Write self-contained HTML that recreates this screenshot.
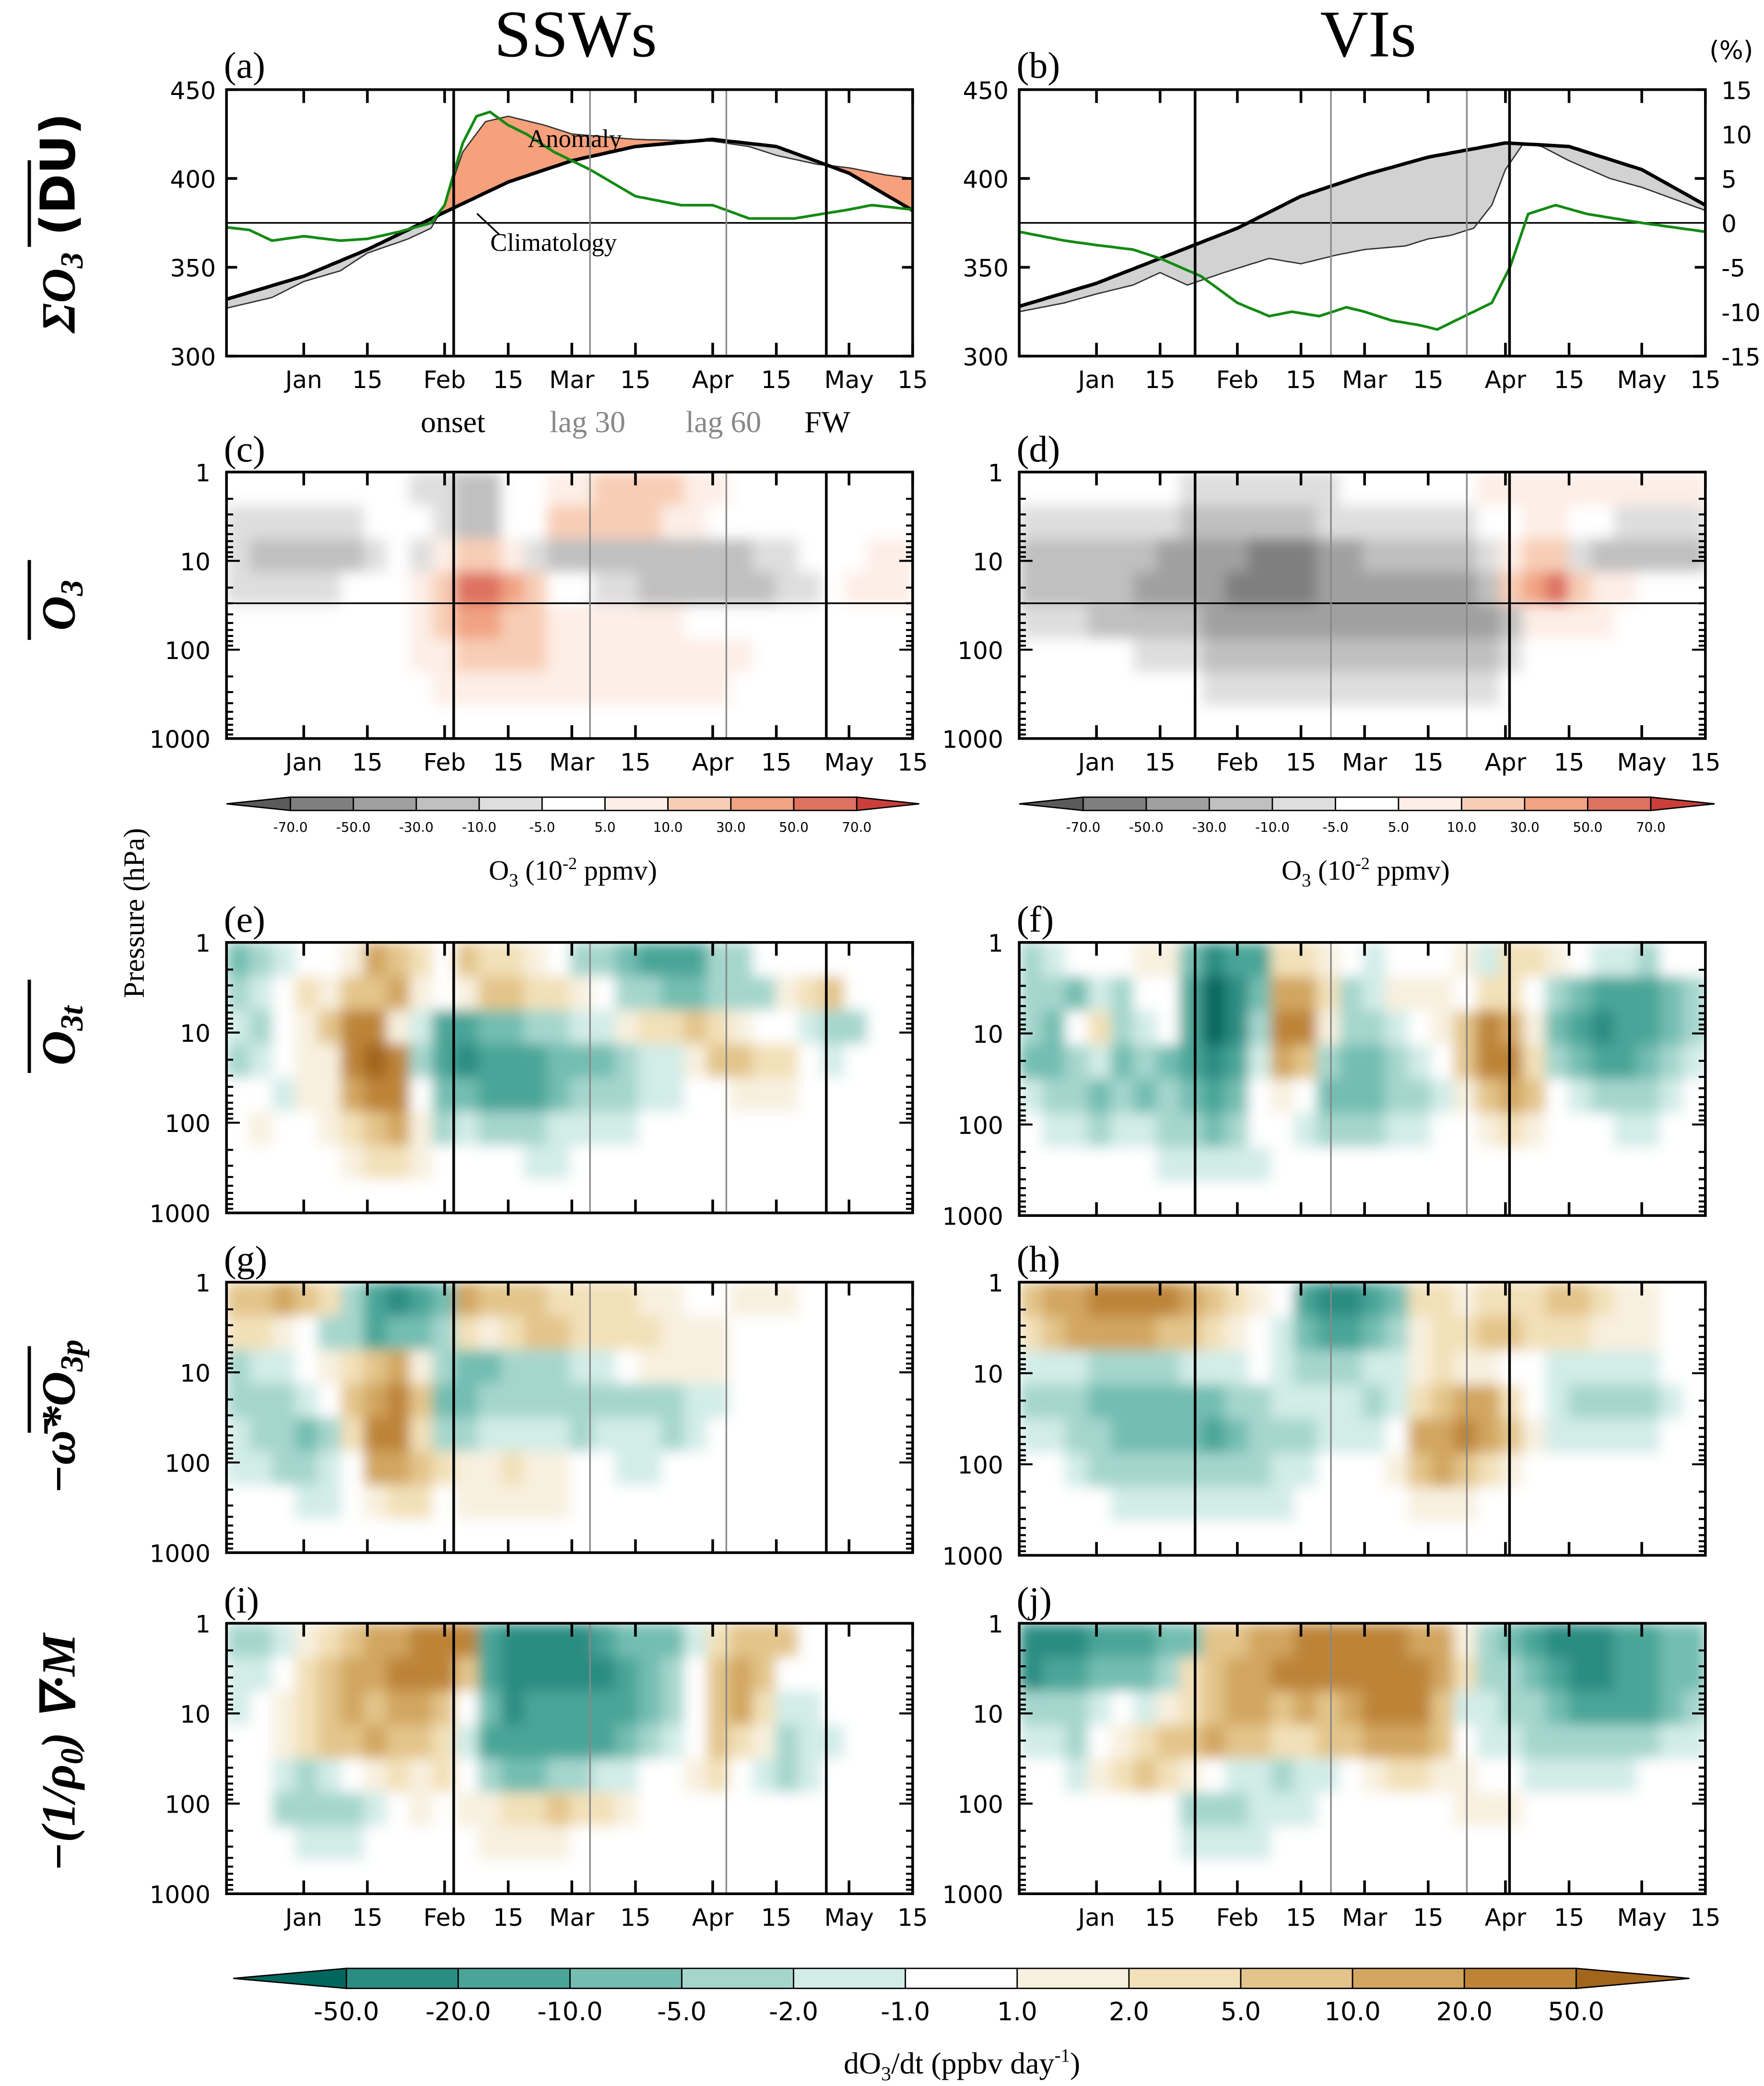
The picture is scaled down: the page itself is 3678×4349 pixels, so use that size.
<!DOCTYPE html>
<html><head><meta charset="utf-8"><style>
html,body{margin:0;padding:0;background:#fff}
svg{display:block}
.t{font-family:"DejaVu Sans","Liberation Sans",sans-serif}
.s{font-family:"Liberation Serif",serif}
</style></head><body>
<svg id="fig" xmlns="http://www.w3.org/2000/svg" width="3678" height="4349" viewBox="0 0 1324 1565">
<defs>
<filter id="soft" x="0" y="0" width="1" height="1" filterUnits="objectBoundingBox"><feGaussianBlur stdDeviation="5" edgeMode="duplicate"/></filter>
</defs>
<rect x="0" y="0" width="1324" height="1565" fill="#fff"/>
<g id="layer"></g>
</svg>
<script>
// ---- data: panel (a)/(b) day offsets from Dec 15 ----
const climA_days=[0,17,31,48,62,76,90,107,121,137,151];
const climA=[332,345,360,381,398,410,418,422,418,403,382];
const totA_days=[0,10,17,25,31,40,45,48,52,57,62,70,76,90,107,115,121,130,137,145,151];
const totA=[327,333,342,348,358,366,372,385,415,432,435,430,425,422,421,418,413,408,406,402,400];
const grnA_days=[0,5,10,17,25,31,38,45,48,52,55,58,62,66,72,80,90,100,107,115,125,137,142,151];
const grnA=[-0.5,-0.8,-2,-1.5,-2,-1.8,-1,0,2,9,12,12.5,11,10,8,6,3,2,2,0.5,0.5,1.5,2,1.5];
const climB_days=[0,17,31,48,62,76,90,107,121,137,151];
const climB=[328,341,355,372,390,402,412,420,418,405,385];
const totB_days=[0,10,17,25,31,37,45,55,62,70,76,85,90,95,100,104,107,111,115,121,130,137,151];
const totB=[325,330,335,340,347,340,347,355,352,357,360,362,366,368,372,385,405,420,418,410,400,395,382];
const grnB_days=[0,10,17,25,31,40,48,55,60,66,72,76,82,88,92,96,100,104,108,112,118,125,137,151];
const grnB=[-1,-2,-2.5,-3,-4,-6,-9,-10.5,-10,-10.5,-9.5,-10,-11,-11.5,-12,-11,-10,-9,-5,1,2,1,0,-1];
const duTicks=[300,350,400,450];
const pctTicks=[15,10,5,0,-5,-10,-15];
const monthTickDays=[17,31,48,62,76,90,107,121,137,151];
const monthTickLabels=["Jan","15","Feb","15","Mar","15","Apr","15","May","15"];
const pTicks=[1,10,100,1000];
const eventsSSW=[50,80,110,132];
const eventsVI=[38.7,68.6,98.5,107.9];
// ---- contour grids (8 pressure rows x 30 time cols, bin codes) ----
const gridC=["55555 55544 33556 67777 66555 55555","44444 45554 33557 77776 65555 55555","43333 34546 77643 33333 33344 55566","44444 55567 99875 54433 33334 45666","55555 55567 88776 66666 55555 55555","55555 55566 77776 66666 66655 55555","55555 55556 66666 66666 66555 55555","55555 55555 55555 55555 55555 55555"];
const gridD=["55555 55444 44445 55555 66666 66666","44444 44333 33344 44444 55665 54444","33333 32222 11122 33333 46774 33333","33333 22221 11122 22222 37897 66555","44433 33322 22222 22222 23666 65555","55555 44433 33333 33333 34555 55555","55555 55544 44444 44444 45555 55555","55555 55555 55555 55555 55555 55555"];
const gridE=["34566 7a986 98876 44322 24466 66666","45687 99a76 79988 76443 34447 89666","54679 bb752 23344 55788 98766 54466","45677 bcb42 12223 33455 79988 65666","66577 abb63 32223 44455 66777 66666","67667 89a74 54445 55566 66666 66666","66666 78876 66655 66666 66666 66666","66666 66666 66666 66666 66666 66666"];
const gridF=["45666 77312 28876 56667 58876 55466","44354 66201 3aa84 57776 88643 22234","43684 56201 4bb74 45679 ba732 12234","33453 43212 5a943 34569 bb843 22345","54434 34323 67633 34457 9a965 44456","65545 54434 66544 45566 78766 65566","66666 65555 56666 66666 66666 66666","66666 66666 66666 66666 66666 66666"];
const gridG=["99a98 42123 a9998 88877 66777 66666","88764 42334 87899 88887 77666 66666","45567 89a74 33444 55677 77666 66666","44456 9ab93 34444 44444 55666 66666","54434 8bb84 45555 45554 56666 66666","55445 6aa98 77877 66556 66666 66666","66655 67886 77777 66666 66666 66666","66666 66666 66666 66666 66666 66666"];
const gridH=["9aabb bba98 76211 23887 88899 87766","89aaa a9987 65322 34788 99888 77766","55544 44555 65444 55787 76655 55566","44433 33334 45555 4589a a8654 44456","55443 33323 44455 56aab a9755 55566","66544 44444 45566 679a9 87666 66666","66665 55555 55666 66777 66666 66666","66666 66666 66666 66666 66666 66666"];
const gridI=["44578 9aabb b2111 12333 58999 66666","55689 aabbb 92111 11234 69a96 66666","56789 a9aa9 63122 22234 69a85 56666","66789 9a998 52222 22345 69874 55666","66545 67878 64334 45566 78654 56666","66444 45676 77889 88766 66666 66666","66655 56666 67777 66666 66666 66666","66666 66666 66666 66666 66666 66666"];
const gridJ=["11122 23399 aabbb bbaa7 43211 12233","12233 3489a abbbb bbba8 44321 12233","44456 5789a a9a9a bbb95 54432 22234","55467 899a9 98899 aaa96 55444 44455","66578 98765 54556 78877 66555 55666","66666 66444 55566 66667 77666 66666","66666 66555 56666 66666 66666 66666","66666 66666 66666 66666 66666 66666"];
const o3Labels=["-70.0","-50.0","-30.0","-10.0","-5.0","5.0","10.0","30.0","50.0","70.0"];
const tendLabels=["-50.0","-20.0","-10.0","-5.0","-2.0","-1.0","1.0","2.0","5.0","10.0","20.0","50.0"];
const o3Colors=["#5a5a5a","#7f7f7f","#a0a0a0","#c0c0c0","#dedede","#ffffff","#fdeee6","#f8cdb5","#f1a383","#de7160","#c9403a"];
const tendColors=["#01665e","#2a8c82","#4aa598","#73bdb1","#a5d6cd","#d2ece7","#ffffff","#f8f0df","#f2e0b8","#e3c48a","#d2a660","#bd8437","#a2651c"];

const NS="http://www.w3.org/2000/svg";
const L=document.getElementById('layer');
function mk(tag,attrs,parent){const e=document.createElementNS(NS,tag);for(const k in attrs)e.setAttribute(k,attrs[k]);(parent||L).appendChild(e);return e;}
function txt(s,x,y,cls,fs,extra,parent){const e=mk('text',Object.assign({x:x,y:y,class:cls,style:'font-size:'+fs+'px'},extra||{}),parent);e.textContent=s;return e;}
function interp(ds,vs,d){if(d<=ds[0])return vs[0];for(let i=1;i<ds.length;i++){if(d<=ds[i]){const f=(d-ds[i-1])/(ds[i]-ds[i-1]);return vs[i-1]+f*(vs[i]-vs[i-1]);}}return vs[vs.length-1];}
const PW=515,NDAYS=151;
function xScale(x0){return d=>x0+d/NDAYS*PW;}
function yLin(top,h,lo,hi){return v=>top+(hi-v)/(hi-lo)*h;}
function yLog(top,h){return p=>top+Math.log10(p)/3*h;}

function frame(name){
  const g=mk('g',{});
  
  
  return g;
}
function monthAxis(g,x,top,h,labels){
  monthTickDays.forEach((d,i)=>{
    mk('line',{x1:x(d),x2:x(d),y1:top+h,y2:top+h-10,stroke:'#000','stroke-width':2},g);
    mk('line',{x1:x(d),x2:x(d),y1:top,y2:top+10,stroke:'#000','stroke-width':2},g);
    if(labels){const t=txt(monthTickLabels[i],x(d),top+h+24,'t',18,{'text-anchor':'middle'},g);
      
      }
  });
}
function events(g,x,top,h,ev){
  ev.forEach((d,i)=>{const c=(i==1||i==2)?'#888':'#000';const w=(i==1||i==2)?1.2:2;
    mk('line',{x1:x(d),x2:x(d),y1:top,y2:top+h,stroke:c,'stroke-width':w},g);});
}
function border(g,x0,top,h){mk('rect',{x:x0,y:top,width:PW,height:h,fill:'none',stroke:'#000','stroke-width':2},g);}

// ---- line panels ----
function linePanel(x0,name,cd,cv,td,tv,gd,gv,ev,letter,rightAxis){
  const top=67,h=200;const x=xScale(x0);const y=yLin(top,h,300,450);const yp=yLin(top,h,-15,15);
  const g=frame(name);
  for(let d=0;d<NDAYS;d+=0.5){
    const c1=interp(cd,cv,d),c2=interp(cd,cv,d+0.5),t1=interp(td,tv,d),t2=interp(td,tv,d+0.5);
    const col=(t1+t2>c1+c2)?'#f7a07c':'#d2d2d2';
    mk('polygon',{points:`${x(d)},${y(c1)} ${x(d+0.5)+0.3},${y(c2)} ${x(d+0.5)+0.3},${y(t2)} ${x(d)},${y(t1)}`,fill:col,stroke:'none'},g);
  }
  mk('line',{x1:x0,x2:x0+PW,y1:y(375),y2:y(375),stroke:'#000','stroke-width':1.2},g);
  const pth=(ds,vs,sc)=>{let p='';for(let d=0;d<=NDAYS;d++){p+=(d?'L':'M')+x(d).toFixed(1)+','+sc(interp(ds,vs,d)).toFixed(1);}return p;};
  const tl=mk('path',{d:pth(td,tv,y),fill:'none',stroke:'#333','stroke-width':1},g);
  
  
  const cl=mk('path',{d:pth(cd,cv,y),fill:'none',stroke:'#000','stroke-width':2.6},g);
  
  
  const gl=mk('path',{d:pth(gd,gv,yp),fill:'none',stroke:'#138a13','stroke-width':2},g);
  
  
  events(g,x,top,h,ev);
  monthAxis(g,x,top,h,true);
  duTicks.forEach(v=>{mk('line',{x1:x0,x2:x0+8,y1:y(v),y2:y(v),stroke:'#000','stroke-width':2},g);
    mk('line',{x1:x0+PW,x2:x0+PW-8,y1:y(v),y2:y(v),stroke:'#000','stroke-width':2},g);
    const t=txt(String(v),x0-8,y(v)+7,'t',18,{'text-anchor':'end'},g);
    
    });
  if(rightAxis){pctTicks.forEach(v=>{const t=txt(String(v),x0+PW+12,yp(v)+7,'t',18,{},g);
    
    });}
  border(g,x0,top,h);
  const lt=txt(letter,x0-2,58,'s',28,{},g);
  
  
}
linePanel(170,'panel-a-ssw-total-ozone',climA_days,climA,totA_days,totA,grnA_days,grnA,eventsSSW,'(a)',false);
linePanel(765,'panel-b-vi-total-ozone',climB_days,climB,totB_days,totB,grnB_days,grnB,eventsVI,'(b)',true);
txt('Anomaly',396,110,'s',19);
txt('Climatology',368,188,'s',19);
mk('line',{x1:358,x2:375,y1:160,y2:176,stroke:'#000','stroke-width':1.2});
txt('(%)',1283,44,'t',19);
[['onset',340,'#000'],['lag 30',441,'#888'],['lag 60',543,'#888'],['FW',621,'#000']].forEach(a=>{
  const t=txt(a[0],a[1],324,'s',23,{'text-anchor':'middle',fill:a[2]});
  
  });

// ---- contour (gridded) panels ----
let clipN=0;
function gridPanel(x0,top,h,grid,colors,ev,letter,labels,name,hline){
  const x=xScale(x0);const yp=yLog(top,h);const g=frame(name);
  const cid='clip'+(clipN++);
  const cp=mk('clipPath',{id:cid},g);mk('rect',{x:x0,y:top,width:PW,height:h},cp);
  const outer=mk('g',{'clip-path':`url(#${cid})`},g);
  const inner=mk('g',{filter:'url(#soft)'},outer);
  const rows=grid.map(r=>r.replace(/ /g,''));
  const nr=rows.length,nc=30,cw=PW/nc,rh=h/nr;
  rows.forEach((r,ri)=>{for(let ci=0;ci<nc;ci++){const k=parseInt(r[ci]||'6',16);
    const c=mk('rect',{x:x0+ci*cw,y:top+ri*rh,width:cw+0.4,height:rh+0.4,fill:colors[k]},inner);
    
    }});
  if(hline)mk('line',{x1:x0,x2:x0+PW,y1:yp(30),y2:yp(30),stroke:'#000','stroke-width':1.2},g);
  events(g,x,top,h,ev);
  monthAxis(g,x,top,h,labels);
  pTicks.forEach(p=>{const t=txt(String(p),x0-12,yp(p)+7,'t',18,{'text-anchor':'end'},g);
    
    
    for(let m=1;m<10&&p*m<=1000;m++){const yy=yp(p*m);const len=m==1?10:5;
      mk('line',{x1:x0,x2:x0+len,y1:yy,y2:yy,stroke:'#000','stroke-width':1.5},g);
      mk('line',{x1:x0+PW,x2:x0+PW-len,y1:yy,y2:yy,stroke:'#000','stroke-width':1.5},g);}});
  border(g,x0,top,h);
  const lt=txt(letter,x0-2,top-8,'s',28,{},g);
  
  
}
gridPanel(170,354,200,gridC,o3Colors,eventsSSW,'(c)',true,'panel-c-ssw-ozone',true);
gridPanel(765,354,200,gridD,o3Colors,eventsVI,'(d)',true,'panel-d-vi-ozone',true);
gridPanel(170,707,203,gridE,tendColors,eventsSSW,'(e)',false,'panel-e-ssw-tendency');
gridPanel(765,707,205,gridF,tendColors,eventsVI,'(f)',false,'panel-f-vi-tendency');
gridPanel(170,962,203,gridG,tendColors,eventsSSW,'(g)',false,'panel-g-ssw-vertical-advection');
gridPanel(765,962,205,gridH,tendColors,eventsVI,'(h)',false,'panel-h-vi-vertical-advection');
gridPanel(170,1218,203,gridI,tendColors,eventsSSW,'(i)',true,'panel-i-ssw-eddy-flux');
gridPanel(765,1218,203,gridJ,tendColors,eventsVI,'(j)',true,'panel-j-vi-eddy-flux');

// ---- colorbars ----
function colorbar(x0,x1,xa,xb,y0,hh,colors,labels,fs,name){
  const g=mk('g',{});
  const n=colors.length-2,bw=(xb-xa)/n,ym=y0+hh/2;
  mk('polygon',{points:`${x0},${ym} ${xa},${y0} ${xa},${y0+hh}`,fill:colors[0],stroke:'#000','stroke-width':1},g);
  mk('polygon',{points:`${x1},${ym} ${xb},${y0} ${xb},${y0+hh}`,fill:colors[colors.length-1],stroke:'#000','stroke-width':1},g);
  for(let i=0;i<n;i++)mk('rect',{x:xa+i*bw,y:y0,width:bw,height:hh,fill:colors[i+1],stroke:'#000','stroke-width':1},g);
  labels.forEach((s,i)=>txt(s,xa+i*bw,y0+hh+(fs>14?24:16),'t',fs,{'text-anchor':'middle'},g));
}
colorbar(170,690,218,643,598,10,o3Colors,o3Labels,10,'ozone-colorbar-left');
colorbar(765,1287,813,1239,598,10,o3Colors,o3Labels,10,'ozone-colorbar-right');
colorbar(175,1268,260,1183,1477,15,tendColors,tendLabels,19,'tendency-colorbar');
</script>
<svg style="position:absolute;left:0;top:0" width="3678" height="4349" viewBox="0 0 1324 1565">
<text x="432" y="42" text-anchor="middle" font-family="Liberation Serif" font-size="50">SSWs</text>
<text x="1027" y="42" text-anchor="middle" font-family="Liberation Serif" font-size="50">VIs</text>
<text x="430" y="660" text-anchor="middle" font-family="Liberation Serif" font-size="21">O<tspan font-size="14" dy="5">3</tspan><tspan dy="-5"> (10</tspan><tspan font-size="13" dy="-8">-2</tspan><tspan dy="8"> ppmv)</tspan></text>
<text x="1025" y="660" text-anchor="middle" font-family="Liberation Serif" font-size="21">O<tspan font-size="14" dy="5">3</tspan><tspan dy="-5"> (10</tspan><tspan font-size="13" dy="-8">-2</tspan><tspan dy="8"> ppmv)</tspan></text>
<text x="722" y="1556" text-anchor="middle" font-family="Liberation Serif" font-size="23">dO<tspan font-size="15" dy="5">3</tspan><tspan dy="-5">/dt (ppbv day</tspan><tspan font-size="14" dy="-9">-1</tspan><tspan dy="9">)</tspan></text>
<text transform="translate(108,685) rotate(-90)" text-anchor="middle" font-family="Liberation Serif" font-size="22">Pressure (hPa)</text>
<g font-family="Liberation Serif" font-weight="bold" font-style="italic" font-size="36">
<text transform="translate(56,167) rotate(-90)" text-anchor="middle">ΣO<tspan font-size="24" dy="6">3</tspan><tspan dy="-6" font-style="normal" font-family="DejaVu Sans"> (DU)</tspan></text>
<text transform="translate(56,454) rotate(-90)" text-anchor="middle">O<tspan font-size="24" dy="6">3</tspan></text>
<text transform="translate(56,777) rotate(-90)" text-anchor="middle">O<tspan font-size="24" dy="6">3t</tspan></text>
<text transform="translate(56,1063) rotate(-90)" text-anchor="middle">−ω̄*O<tspan font-size="24" dy="6">3p</tspan></text>
<text transform="translate(56,1315) rotate(-90)" text-anchor="middle">−(1/ρ<tspan font-size="24" dy="6">0</tspan><tspan dy="-6">) ∇·M</tspan></text>
</g>
<g stroke="#000" stroke-width="2.5">
<line x1="22" y1="120" x2="22" y2="185"/><line x1="22" y1="420" x2="22" y2="480"/><line x1="22" y1="735" x2="22" y2="805"/><line x1="22" y1="1010" x2="22" y2="1075"/>
</g>
</svg>
</body></html>
